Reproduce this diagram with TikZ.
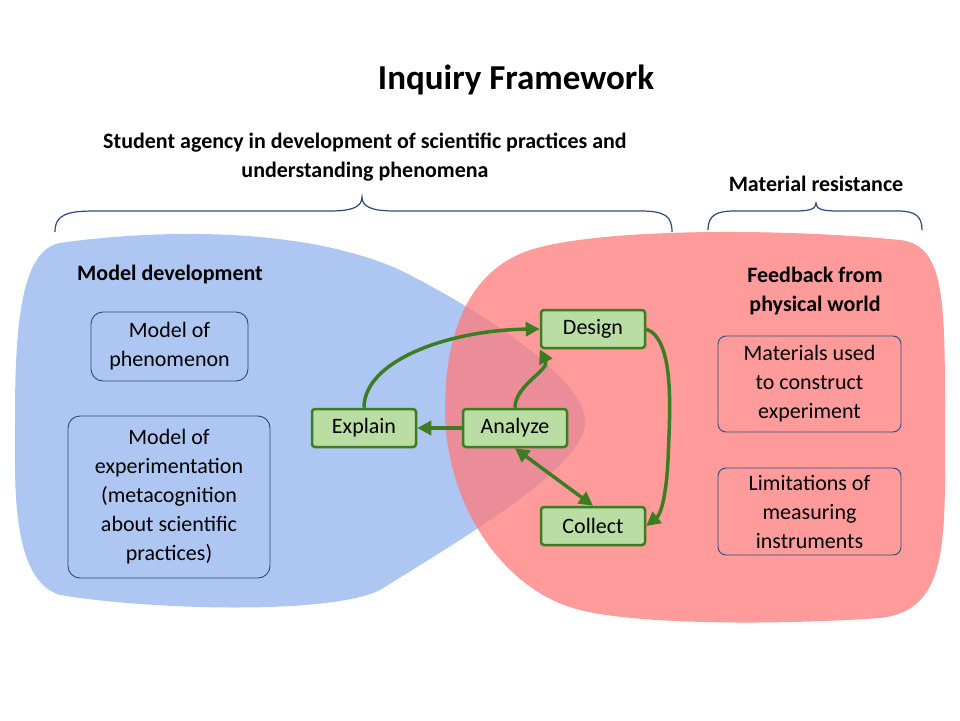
\documentclass[tikz,border=0pt]{standalone}
\usepackage{fontspec}
\setmainfont{Carlito}
\usetikzlibrary{arrows.meta}
\definecolor{blob1}{HTML}{AEC6F2}
\definecolor{blob2}{HTML}{FF7A7A}
\definecolor{gfill}{HTML}{B9DDA3}
\definecolor{gline}{HTML}{3C7D22}
\definecolor{navy}{HTML}{2E4A78}
\tikzset{
 stage/.style={draw=gline,line width=2.5pt,fill=gfill,rounded corners=3pt,minimum width=104pt,minimum height=38pt,font=\fontsize{22}{26}\selectfont},
 info/.style={draw=navy,line width=0.9pt,rounded corners=12pt,align=center,font=\fontsize{22}{29}\selectfont},
 flow/.style={draw=gline,line width=3.5pt,-{Triangle[length=14pt,width=14pt]}},
 hdr/.style={font=\bfseries\fontsize{22}{29}\selectfont,align=center},
 brace/.style={draw=navy,line width=1.2pt}
}
\begin{document}
\begin{tikzpicture}[x=1pt,y=-1pt]
\useasboundingbox (0,0) rectangle (960,720);
% blobs
\fill[blob1] (60,243) .. controls (150,230) and (300,225) .. (400,270)
  .. controls (480,310) and (590,380) .. (585,425)
  .. controls (580,470) and (460,540) .. (380,590)
  .. controls (330,615) and (150,610) .. (60,595)
  .. controls (10,580) and (15,480) .. (15,420)
  .. controls (15,330) and (20,250) .. (60,243) -- cycle;
\fill[blob2,opacity=0.75] (530,250) .. controls (600,228) and (780,228) .. (900,240)
  .. controls (945,245) and (945,300) .. (945,420)
  .. controls (945,540) and (950,610) .. (880,618)
  .. controls (780,625) and (640,625) .. (580,610)
  .. controls (500,590) and (445,500) .. (445,410)
  .. controls (445,330) and (470,270) .. (530,250) -- cycle;
% title and headers
\node[font=\bfseries\fontsize{35}{40}\selectfont] (title) at (516,80) {Inquiry Framework};
\node[hdr] (agency) at (365,157) {Student agency in development of scientific practices and\\understanding phenomena};
\node[hdr] (matres) at (816,184) {Material resistance};
\node[hdr] (moddev) at (170,275) {Model development};
\node[hdr] (feedback) at (815,291) {Feedback from\\physical world};
% braces
\draw[brace] (55,232) .. controls (55,214) and (68,211) .. (95,211) -- (330,211)
  .. controls (352,211) and (362,207) .. (362,197)
  .. controls (362,207) and (372,211) .. (395,211) -- (640,211)
  .. controls (665,211) and (672,216) .. (672,232);
\draw[brace] (708,230) .. controls (708,214) and (718,211) .. (735,211) -- (795,211)
  .. controls (810,211) and (816,209) .. (816,203)
  .. controls (816,209) and (822,211) .. (838,211) -- (898,211)
  .. controls (915,211) and (922,216) .. (922,230);
% info boxes
\node[info,minimum width=157pt,minimum height=69pt] (phen) at (169.5,346.5) {Model of\\phenomenon};
\node[info,minimum width=202pt,minimum height=162pt] (exper) at (169,497) {Model of\\experimentation\\(metacognition\\about scientific\\practices)};
\node[info,minimum width=183pt,minimum height=96pt,rounded corners=8pt] (mater) at (809.5,384) {Materials used\\to construct\\experiment};
\node[info,minimum width=183pt,minimum height=87pt,rounded corners=8pt] (limit) at (809.5,511.5) {Limitations of\\measuring\\instruments};
% stages
\node[stage] (design) at (593,329) {Design};
\node[stage] (analyze) at (515,428) {Analyze};
\node[stage] (explain) at (364,428) {Explain};
\node[stage] (collect) at (593,526) {Collect};
% connectors
\draw[flow] (explain.north) .. controls (364,360) and (450,330) .. (design.west);
\draw[flow] (analyze.north) .. controls (515,385) and (550,370) .. (design.south west);
\draw[flow] (analyze.west) -- (explain.east);
\draw[flow,{Triangle[length=14pt,width=14pt]}-{Triangle[length=14pt,width=14pt]}] (analyze.south) -- (collect.north);
\draw[flow] (design.east) .. controls (675,340) and (670,410) .. (668,460) .. controls (666,500) and (660,515) .. (collect.east);
\end{tikzpicture}
\end{document}
